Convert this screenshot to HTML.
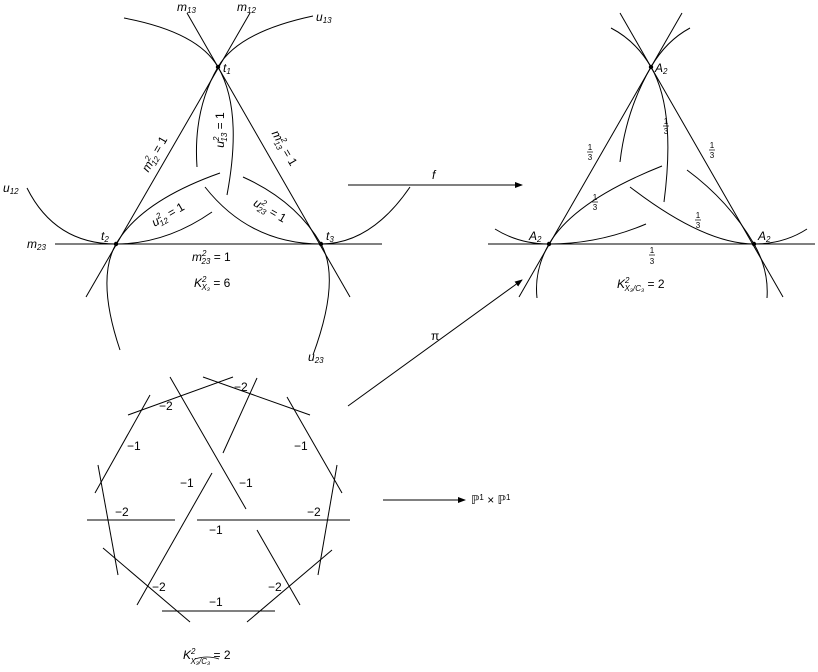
<!DOCTYPE html>
<html><head><meta charset="utf-8"><style>
html,body{margin:0;padding:0;background:#fff;}
svg{display:block;}
text{font-family:"Liberation Sans",sans-serif;font-size:12px;fill:#000;}
.i{font-style:italic;font-family:"Liberation Sans",sans-serif;font-size:12px;}
.s{font-size:8px;}
</style></head><body>
<svg width="818" height="672" viewBox="0 0 818 672" xmlns="http://www.w3.org/2000/svg">
<defs><marker id="ar" markerWidth="8" markerHeight="6" refX="7" refY="3" orient="auto" markerUnits="userSpaceOnUse"><path d="M0,0 L8,3 L0,6 z" fill="#000"/></marker></defs>
<g stroke="#000" fill="none" stroke-width="1">
<line x1="55" y1="244" x2="382" y2="244"/>
<line x1="250" y1="13" x2="86" y2="297"/>
<line x1="187" y1="13" x2="350" y2="297"/>
<path d="M313,16 Q238,32 218,67 Q193,110 197,167"/>
<path d="M124,18 Q198,32 218,67 Q243,110 227,195"/>
<path d="M27,188 Q55,244 116,244 Q166,244 212,212"/>
<path d="M120,350 Q96,279 116,244 Q141,201 220,173"/>
<path d="M205,187 Q250,244 321,244 Q371,244 410,187"/>
<path d="M243,177 Q296,201 321,244 Q341,279 313,355"/>
<line x1="488" y1="244" x2="815" y2="244"/>
<line x1="682" y1="13" x2="519" y2="297"/>
<line x1="620" y1="13" x2="783" y2="297"/>
<path d="M690,28 Q666,41 651,67 Q626,110 620,162"/>
<path d="M611,28 Q636,41 651,67 Q676,110 664,202"/>
<path d="M495,229 Q519,244 549,244 Q599,244 646,224"/>
<path d="M537,298 Q534,270 549,244 Q574,201 662,166"/>
<path d="M630,187 Q704,244 754,244 Q784,244 807,229"/>
<path d="M687,170 Q729,201 754,244 Q769,270 767,298"/>
<line x1="348" y1="185" x2="522" y2="185" marker-end="url(#ar)"/>
<line x1="348" y1="406" x2="522" y2="280" marker-end="url(#ar)"/>
<line x1="383" y1="500" x2="465" y2="500" marker-end="url(#ar)"/>
<line x1="128" y1="415" x2="233" y2="377"/>
<line x1="203" y1="377" x2="310" y2="415"/>
<line x1="150" y1="395" x2="95" y2="493"/>
<line x1="287" y1="397" x2="342" y2="493"/>
<line x1="98" y1="465" x2="118" y2="575"/>
<line x1="337" y1="465" x2="318" y2="575"/>
<line x1="87" y1="520" x2="175" y2="520"/>
<line x1="197" y1="520" x2="350" y2="520"/>
<line x1="103" y1="548" x2="190" y2="622"/>
<line x1="332" y1="550" x2="247" y2="622"/>
<line x1="162" y1="611" x2="275" y2="611"/>
<line x1="170" y1="377" x2="246" y2="509"/>
<line x1="257" y1="378" x2="223" y2="453"/>
<line x1="212" y1="473" x2="137" y2="605"/>
<line x1="257" y1="530" x2="300" y2="605"/>
</g>
<g fill="#000">
<circle cx="218" cy="67" r="2.2"/><circle cx="116" cy="244" r="2.2"/><circle cx="321" cy="244" r="2.2"/>
<circle cx="651" cy="67" r="2.2"/><circle cx="549" cy="244" r="2.2"/><circle cx="754" cy="244" r="2.2"/>
</g>
<text x="177" y="11" class="i">m<tspan class="s" dy="2">13</tspan></text>
<text x="237" y="11" class="i">m<tspan class="s" dy="2">12</tspan></text>
<text x="316" y="21" class="i">u<tspan class="s" dy="2">13</tspan></text>
<text x="3" y="192" class="i">u<tspan class="s" dy="2">12</tspan></text>
<text x="27" y="248" class="i">m<tspan class="s" dy="2">23</tspan></text>
<text x="223" y="72" class="i">t<tspan class="s" dy="2">1</tspan></text>
<text x="101" y="240" class="i">t<tspan class="s" dy="2">2</tspan></text>
<text x="326" y="240" class="i">t<tspan class="s" dy="2">3</tspan></text>
<text x="308" y="361" class="i">u<tspan class="s" dy="2">23</tspan></text>
<text transform="translate(158,156) rotate(-60)" text-anchor="middle" class="i">m<tspan class="s" dy="-5">2</tspan><tspan class="s" dx="-5" dy="8">12</tspan><tspan dy="-3" style="font-style:normal"> = 1</tspan></text>
<text transform="translate(281,150) rotate(60)" text-anchor="middle" class="i">m<tspan class="s" dy="-5">2</tspan><tspan class="s" dx="-5" dy="8">13</tspan><tspan dy="-3" style="font-style:normal"> = 1</tspan></text>
<text transform="translate(224,130) rotate(-90)" text-anchor="middle" class="i">u<tspan class="s" dy="-5">2</tspan><tspan class="s" dx="-5" dy="8">13</tspan><tspan dy="-3" style="font-style:normal"> = 1</tspan></text>
<text transform="translate(170,218) rotate(-30)" text-anchor="middle" class="i">u<tspan class="s" dy="-5">2</tspan><tspan class="s" dx="-5" dy="8">12</tspan><tspan dy="-3" style="font-style:normal"> = 1</tspan></text>
<text transform="translate(268,214) rotate(30)" text-anchor="middle" class="i">u<tspan class="s" dy="-5">2</tspan><tspan class="s" dx="-5" dy="8">23</tspan><tspan dy="-3" style="font-style:normal"> = 1</tspan></text>
<text x="192" y="261" class="i">m<tspan class="s" dy="-5">2</tspan><tspan class="s" dx="-5" dy="8">23</tspan><tspan dy="-3" style="font-style:normal"> = 1</tspan></text>
<text x="194" y="287" class="i">K<tspan class="s" dy="-5">2</tspan><tspan class="s" dx="-5" dy="8">X₃</tspan><tspan dy="-3" style="font-style:normal"> = 6</tspan></text>
<text x="655" y="72" class="i">A<tspan class="s" dy="2">2</tspan></text>
<text x="529" y="240" class="i">A<tspan class="s" dy="2">2</tspan></text>
<text x="758" y="240" class="i">A<tspan class="s" dy="2">2</tspan></text>
<g text-anchor="middle">
<text x="590" y="150" class="s">1</text><line x1="587" y1="152" x2="593" y2="152" stroke="#000" stroke-width="0.7"/><text x="590" y="160" class="s">3</text>
<text x="666" y="124" class="s">1</text><line x1="663" y1="126" x2="669" y2="126" stroke="#000" stroke-width="0.7"/><text x="666" y="134" class="s">3</text>
<text x="712" y="148" class="s">1</text><line x1="709" y1="150" x2="715" y2="150" stroke="#000" stroke-width="0.7"/><text x="712" y="158" class="s">3</text>
<text x="595" y="200" class="s">1</text><line x1="592" y1="202" x2="598" y2="202" stroke="#000" stroke-width="0.7"/><text x="595" y="210" class="s">3</text>
<text x="698" y="218" class="s">1</text><line x1="695" y1="220" x2="701" y2="220" stroke="#000" stroke-width="0.7"/><text x="698" y="228" class="s">3</text>
<text x="652" y="253" class="s">1</text><line x1="649" y1="255" x2="655" y2="255" stroke="#000" stroke-width="0.7"/><text x="652" y="264" class="s">3</text>
</g>
<text x="617" y="288" class="i">K<tspan class="s" dy="-5">2</tspan><tspan class="s" dx="-5" dy="8">X₃/C₃</tspan><tspan dy="-3" style="font-style:normal"> = 2</tspan></text>
<text x="432" y="179" class="i">f</text>
<text x="431" y="340">π</text>
<text x="471" y="504">ℙ<tspan class="s" dy="-4">1</tspan><tspan dy="4"> × ℙ</tspan><tspan class="s" dy="-4">1</tspan></text>
<text x="234" y="391">−2</text>
<text x="159" y="410">−2</text>
<text x="127" y="450">−1</text>
<text x="294" y="450">−1</text>
<text x="180" y="487">−1</text>
<text x="239" y="487">−1</text>
<text x="115" y="516">−2</text>
<text x="307" y="516">−2</text>
<text x="209" y="534">−1</text>
<text x="152" y="591">−2</text>
<text x="268" y="591">−2</text>
<text x="209" y="606">−1</text>
<text x="183" y="659" class="i">K<tspan class="s" dy="-5">2</tspan><tspan class="s" dx="-5" dy="10">X₃/C₃</tspan><tspan dy="-5" style="font-style:normal"> = 2</tspan></text>
<path d="M195,659 q12,-4 24,0" stroke="#000" fill="none" stroke-width="0.7"/>
</svg>
</body></html>
